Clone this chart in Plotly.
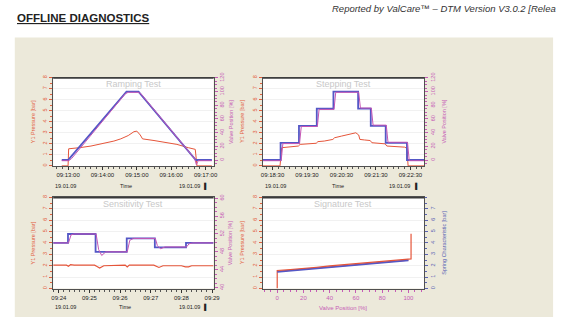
import plotly.graph_objects as go

W, H = 566, 318
def px(x): return x / W
def py(y): return 1 - y / H

DATE = "2009-01-19 "
def T(lst): return [DATE + t for t in lst]

# ---------------- data ----------------
# Ramping test
ramp_sp_time = ["09:12:49", "09:13:00", "09:14:42", "09:15:03", "09:16:43", "09:17:11"]
ramp_sp_pos = [0, 0, 100, 100, 0, 0]
ramp_act_time = ["09:12:49", "09:13:01", "09:13:06", "09:14:40", "09:14:45", "09:15:02", "09:15:07",
                 "09:16:41", "09:16:44", "09:16:47", "09:17:11"]
ramp_act_pos = [-1, -1, 2, 97, 99, 99, 97, 2, -7, -1, -1]
ramp_p_time = ["09:12:49", "09:13:00", "09:13:01", "09:13:12", "09:13:20", "09:13:40", "09:14:00",
               "09:14:20", "09:14:32", "09:14:45", "09:14:55", "09:15:00", "09:15:06", "09:15:10",
               "09:15:30", "09:15:50", "09:16:10", "09:16:30", "09:16:42", "09:16:45", "09:17:11"]
ramp_p_val = [0, 0, 1.55, 1.6, 1.65, 1.8, 2.0, 2.25, 2.45, 2.75, 3.1, 3.15, 2.8, 2.45,
              2.3, 2.15, 1.95, 1.65, 1.5, 0, 0]
ramp_ticks = ["09:13:00", "09:14:00", "09:15:00", "09:16:00", "09:17:00"]

# Stepping test
step_sp_time = ["09:18:13", "09:18:44", "09:19:16", "09:19:47", "09:20:16", "09:20:59",
                "09:21:21", "09:21:47", "09:22:24", "09:22:54"]
step_sp_pos = [0, 25, 50, 75, 100, 75, 50, 25, 0, 0]
step_act_time = ["09:18:13", "09:18:45", "09:18:48", "09:19:17", "09:19:20", "09:19:48", "09:19:51",
                 "09:20:17", "09:20:20", "09:21:00", "09:21:03", "09:21:22", "09:21:25",
                 "09:21:48", "09:21:51", "09:22:25", "09:22:28", "09:22:54"]
step_act_pos = [-1, -1, 24, 24, 49, 49, 74, 74, 99, 99, 76, 76, 51, 51, 26, 26, -1, -1]
step_p_time = ["09:18:13", "09:18:43", "09:18:46", "09:19:00", "09:19:15", "09:19:18", "09:19:30",
               "09:19:46", "09:19:49", "09:20:00", "09:20:15", "09:20:18", "09:20:30", "09:20:45",
               "09:20:55", "09:21:00", "09:21:02", "09:21:10", "09:21:20", "09:21:23", "09:21:35",
               "09:21:46", "09:21:49", "09:22:05", "09:22:20", "09:22:24", "09:22:26", "09:22:54"]
step_p_val = [0, 0, 1.65, 1.75, 1.8, 1.95, 2.0, 2.05, 2.2, 2.25, 2.4, 2.55, 2.7, 2.85,
              3.0, 2.8, 2.4, 2.35, 2.3, 2.1, 2.05, 2.0, 1.8, 1.75, 1.7, 1.6, 0, 0]
step_ticks = ["09:18:30", "09:19:30", "09:20:30", "09:21:30", "09:22:30"]

# Sensitivity test
sens_sp_time = ["09:23:49", "09:24:18", "09:25:12", "09:26:13", "09:27:08", "09:28:09", "09:29:03"]
sens_sp_pos = [50, 52, 48, 51, 49, 50, 50]
sens_act_time = ["09:23:49", "09:24:19", "09:24:24", "09:24:30", "09:25:13", "09:25:18", "09:25:24",
                 "09:25:32", "09:26:14", "09:26:19", "09:26:26", "09:27:09", "09:27:13",
                 "09:27:19", "09:27:28", "09:28:10", "09:28:15", "09:28:22", "09:29:03"]
sens_act_pos = [50, 50, 51.8, 52, 52, 48.5, 47.2, 48, 48, 50.6, 51, 51, 49.4, 48.7, 49.1,
                49.1, 49.8, 50, 50]
sens_p_time = ["09:23:49", "09:24:15", "09:24:19", "09:24:23", "09:24:30", "09:25:10", "09:25:14",
               "09:25:20", "09:25:28", "09:26:10", "09:26:14", "09:26:18", "09:27:06", "09:27:10",
               "09:27:16", "09:27:24", "09:28:00", "09:28:08", "09:28:14", "09:28:20", "09:29:03"]
sens_p_val = [2.05, 2.05, 1.95, 2.1, 2.05, 2.05, 1.95, 1.8, 2.0, 2.05, 1.9, 2.05, 2.05, 1.95,
              1.85, 2.0, 2.0, 1.9, 1.9, 2.0, 2.0]
sens_ticks = ["09:24:00", "09:25:00", "09:26:00", "09:27:00", "09:28:00", "09:29:00"]
sens_ticktext = ["09:24", "09:25", "09:26", "09:27", "09:28", "09:29"]

# Signature test
sig_up_pos = [0, 0, 10, 20, 30, 40, 50, 60, 70, 80, 90, 100, 102, 102]
sig_up_val = [0, 1.58, 1.66, 1.79, 1.86, 1.98, 2.07, 2.17, 2.27, 2.36, 2.45, 2.58, 2.6, 4.8]
sig_dn_pos = [100, 90, 80, 70, 60, 50, 40, 30, 20, 10, 0]
sig_dn_val = [2.5, 2.38, 2.3, 2.2, 2.1, 2.0, 1.9, 1.82, 1.72, 1.62, 1.5]
sig_spring_pos = [0, 10, 20, 30, 40, 50, 60, 70, 80, 90, 100]
sig_spring_val = [1.45, 1.55, 1.65, 1.75, 1.86, 1.95, 2.05, 2.15, 2.26, 2.35, 2.45]

pressure_ticks = [0, 1, 2, 3, 4, 5, 6, 7, 8]
pos_ticks = [0, 20, 40, 60, 80, 100, 120]
sens_pos_ticks = [40, 44, 48, 52, 56, 60]
sig_x_ticks = [0, 20, 40, 60, 80, 100]
spring_ticks = [0, 1, 2, 3, 4, 5, 6, 7]

# ---------------- style ----------------
RED = "#e5553a"
MAG = "#c455b4"
BLUE = "#5457c6"
AXRED = "#e2603f"
AXMAG = "#c65cb6"
AXBLUE = "#5a63b4"
FRAME = "#505050"
FONT = "Liberation Sans, Arial, sans-serif"

fig = go.Figure()

def add(x, y, xa, ya, color, width, shape="linear"):
    fig.add_trace(go.Scatter(x=x, y=y, xaxis=xa, yaxis=ya, mode="lines",
                             line=dict(color=color, width=width, shape=shape),
                             showlegend=False, hoverinfo="skip"))

# TL
add(T(ramp_p_time), ramp_p_val, "x", "y", RED, 1)
add(T(ramp_sp_time), ramp_sp_pos, "x", "y2", BLUE, 1.8)
add(T(ramp_act_time), ramp_act_pos, "x", "y2", MAG, 1)
# TR
add(T(step_p_time), step_p_val, "x2", "y3", RED, 1)
add(T(step_sp_time), step_sp_pos, "x2", "y4", BLUE, 1.8, "hv")
add(T(step_act_time), step_act_pos, "x2", "y4", MAG, 1)
# BL
add(T(sens_p_time), sens_p_val, "x3", "y5", RED, 1.2)
add(T(sens_sp_time), sens_sp_pos, "x3", "y6", BLUE, 1.8, "hv")
add(T(sens_act_time), sens_act_pos, "x3", "y6", MAG, 1)
# BR
add(sig_spring_pos, sig_spring_val, "x4", "y8", BLUE, 1.5)
add(sig_dn_pos, sig_dn_val, "x4", "y7", RED, 1.2)
add(sig_up_pos, sig_up_val, "x4", "y7", RED, 1.2)

boxes = {
    "TL": (52, 215, 74, 164),
    "TR": (265, 429, 74, 164),
    "BL": (52, 215, 196, 289),
    "BR": (265, 429, 196, 289),
}

tickfont = dict(size=6, color="#222", family=FONT)

def xdate(box, rng, ticks, ticktext):
    x0, x1, y0, y1 = box
    return dict(domain=[px(x0), px(x1)], type="date", range=T(rng),
                tickmode="array", tickvals=T(ticks), ticktext=ticktext,
                tickfont=tickfont, ticks="outside", ticklen=3, tickcolor="#333",
                minor=dict(dtick=10000, tick0=DATE + "09:00:00", ticks="outside",
                           ticklen=2, tickcolor="#555"),
                showline=True, linecolor=FRAME, linewidth=1, mirror=True,
                showgrid=False, zeroline=False, fixedrange=True)

def yleft(box, rng, ticks, color, anchor, minor_dt=0.5):
    x0, x1, y0, y1 = box
    return dict(domain=[py(y1), py(y0)], range=rng, anchor=anchor,
                tickmode="array", tickvals=ticks,
                tickfont=dict(size=5.5, color=color, family=FONT), tickangle=-90,
                ticks="outside", ticklen=3, tickcolor=color,
                minor=dict(dtick=minor_dt, tick0=0, ticks="outside", ticklen=2, tickcolor=color),
                showline=True, linecolor=FRAME, linewidth=1, mirror=True,
                showgrid=True, gridcolor="#f1f1f1", gridwidth=1, zeroline=False, fixedrange=True)

def yright(box, rng, ticks, color, anchor, overlay, minor_dt):
    x0, x1, y0, y1 = box
    return dict(domain=[py(y1), py(y0)], range=rng, anchor=anchor, overlaying=overlay,
                side="right", tickmode="array", tickvals=ticks,
                tickfont=dict(size=5.5, color=color, family=FONT), tickangle=-90,
                ticks="outside", ticklen=3, tickcolor=color,
                minor=dict(dtick=minor_dt, tick0=0, ticks="outside", ticklen=2, tickcolor=color),
                showline=False, showgrid=False, zeroline=False, fixedrange=True)

layout = dict(
    width=W, height=H, margin=dict(l=0, r=0, t=0, b=0), autosize=False,
    paper_bgcolor="white", plot_bgcolor="rgba(0,0,0,0)",
    font=dict(family=FONT),
    xaxis=xdate(boxes["TL"], ["09:12:34", "09:17:14"], ramp_ticks, ramp_ticks),
    yaxis=yleft(boxes["TL"], [0, 8], pressure_ticks, AXRED, "x"),
    yaxis2=yright(boxes["TL"], [-8.6, 120.5], pos_ticks, AXMAG, "x", "y", 5),
    xaxis2=xdate(boxes["TR"], ["09:18:13", "09:22:54"], step_ticks, step_ticks),
    yaxis3=yleft(boxes["TR"], [0, 8], pressure_ticks, AXRED, "x2"),
    yaxis4=yright(boxes["TR"], [-8.6, 120.5], pos_ticks, AXMAG, "x2", "y3", 5),
    xaxis3=xdate(boxes["BL"], ["09:23:49", "09:29:03"], sens_ticks, sens_ticktext),
    yaxis5=yleft(boxes["BL"], [0, 8], pressure_ticks, AXRED, "x3"),
    yaxis6=yright(boxes["BL"], [39.8, 60.2], sens_pos_ticks, AXMAG, "x3", "y5", 1),
    xaxis4=dict(domain=[px(265), px(429)], range=[-11, 112], tickmode="array",
                tickvals=sig_x_ticks, tickfont=dict(size=6, color=AXMAG, family=FONT),
                ticks="outside", ticklen=3, tickcolor=AXMAG,
                minor=dict(dtick=5, tick0=0, ticks="outside", ticklen=2, tickcolor=AXMAG),
                showline=True, linecolor=FRAME, linewidth=1, mirror=True,
                showgrid=False, zeroline=False, fixedrange=True),
    yaxis7=yleft(boxes["BR"], [0, 8], pressure_ticks, AXRED, "x4"),
    yaxis8=yright(boxes["BR"], [0, 8], spring_ticks, AXBLUE, "x4", "y7", 0.5),
)
layout["xaxis"]["anchor"] = "y"
layout["xaxis2"]["anchor"] = "y3"
layout["xaxis3"]["anchor"] = "y5"
layout["xaxis4"]["anchor"] = "y7"
fig.update_layout(**layout)

# background panel + white plot areas
shapes = [dict(type="rect", xref="paper", yref="paper", x0=px(13), x1=px(560), y0=py(318), y1=py(33),
               fillcolor="#ece9da", line=dict(width=0), layer="below")]
for b in boxes.values():
    x0, x1, y0, y1 = b
    shapes.append(dict(type="rect", xref="paper", yref="paper", x0=px(x0), x1=px(x1),
                       y0=py(y1), y1=py(y0), fillcolor="white", line=dict(width=0), layer="below"))
for b in boxes.values():
    x0, x1, y0, y1 = b
    shapes.append(dict(type="line", xref="paper", yref="paper", x0=px(x0), x1=px(x1),
                       y0=py(y0 + 0.5), y1=py(y0 + 0.5), line=dict(color="#3a3a3a", width=1.5)))
fig.update_layout(shapes=shapes)

ann = []
def A(text, x, y, size=5, color="#222", angle=0, xanchor="center", **kw):
    ann.append(dict(text=text, x=px(x), y=py(y), xref="paper", yref="paper", showarrow=False,
                    font=dict(size=size, color=color, family=FONT), textangle=angle,
                    xanchor=xanchor, yanchor="middle", **kw))

A("<b><u>OFFLINE DIAGNOSTICS</u></b>", 13, 13, size=11.5, color="#222", xanchor="left")
A("<i>Reported by ValCare™ – DTM Version V3.0.2 [Relea</i>", 565, 4, size=9.5,
  color="#333", xanchor="right")

titles = {"TL": "Ramping Test", "TR": "Stepping Test", "BL": "Sensitivity Test", "BR": "Signature Test"}
for k, t in titles.items():
    x0, x1, y0, y1 = boxes[k]
    A(t, (x0 + x1) / 2, y0 + 7, size=9, color="#c8c8c8")

# axis titles
for k in ["TL", "BL"]:
    x0, x1, y0, y1 = boxes[k]
    A("Y1 Pressure [bar]", 31, (y0 + y1) / 2, size=5.5, color=AXRED, angle=-90)
    A("Valve Position [%]", 232, (y0 + y1) / 2, size=5.5, color=AXMAG, angle=-90)
for k in ["TR", "BR"]:
    x0, x1, y0, y1 = boxes[k]
    A("Y1 Pressure [bar]", 244, (y0 + y1) / 2, size=5.5, color=AXRED, angle=-90)
A("Valve Position [%]", 449, (74 + 164) / 2, size=5.5, color=AXMAG, angle=-90)
A("Spring Characteristic [bar]", 449, (196 + 289) / 2, size=5.5, color=AXBLUE, angle=-90)
A("Valve Position [%]", 347, 309, size=6, color=AXMAG)

# date / time rows
for (x0, x1, yrow, tx) in [(52, 215, 184, 126), (265, 429, 184, 341), (52, 215, 308, 125)]:
    A("19.01.09", x0, yrow, size=5.5, xanchor="left")
    A("Time", tx, yrow, size=5.5)
    A("19.01.09", x1 - 12, yrow, size=5.5, xanchor="right")
    A("<b>▐</b>", x1 - 9, yrow, size=6, color="#222")

fig.update_layout(annotations=ann)
fig.write_html("out.html", config={"displayModeBar": False},
               post_script="document.body.style.margin='0px';document.body.style.padding='0px';")
